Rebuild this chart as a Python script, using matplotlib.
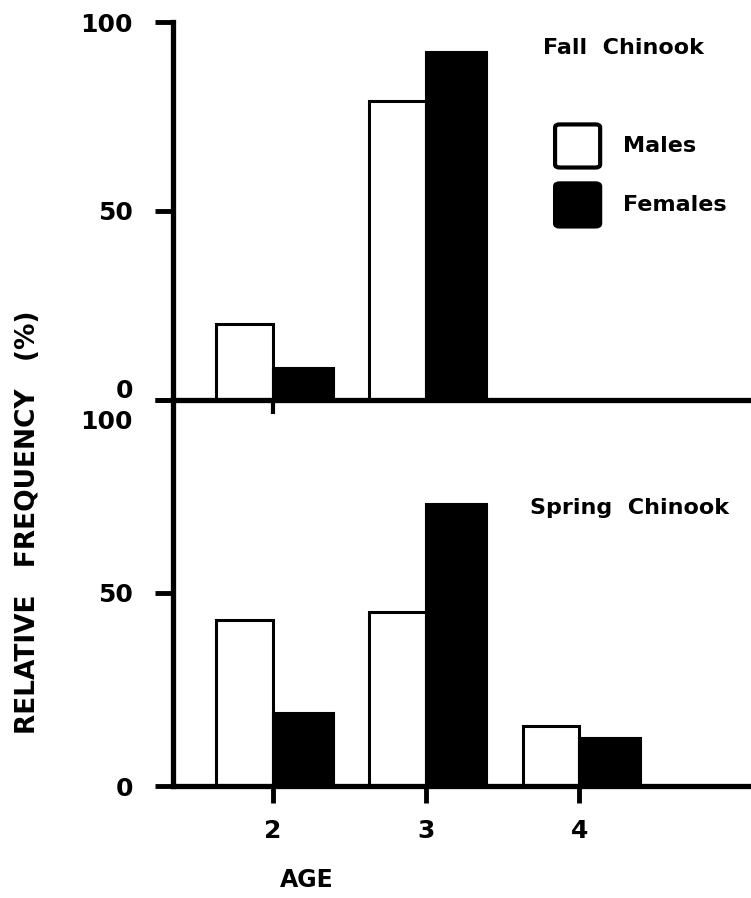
import numpy as np
import matplotlib
matplotlib.use("Agg")
import matplotlib.pyplot as plt
from matplotlib.patches import FancyBboxPatch
from matplotlib.transforms import ScaledTranslation

ages = [2, 3, 4]
fall_males = [20, 79, 0]
fall_females = [8.5, 92, 0]
spring_males = [43, 45, 15.5]
spring_females = [19, 73, 12.5]
y_ticks = [0, 50, 100]
y_tick_labels = ["0", "50", "100"]

plt.rcParams['font.family'] = ['DejaVu Sans']
plt.rcParams['font.weight'] = 'bold'

fig = plt.figure(figsize=(7.51, 8.98), dpi=100)
ax_top = fig.add_axes([0.2304, 0.5546, 0.7696, 0.4209])
ax_bot = fig.add_axes([0.2304, 0.1247, 0.7696, 0.4299])

x = np.array(ages, dtype=float)
wm, wf = 0.37, 0.40

def draw_panel(ax, males, females):
    ax.patch.set_visible(False)
    ax.bar(x, males, width=-wm, align='edge', facecolor='white',
           edgecolor='black', linewidth=2.2)
    ax.bar(x, females, width=wf, align='edge', facecolor='black',
           edgecolor='black', linewidth=1.5)
    ax.set_xlim(1.35, 5.12)
    ax.set_ylim(0, 100)
    for side in ['top', 'right']:
        ax.spines[side].set_visible(False)
    for side in ['left', 'bottom']:
        ax.spines[side].set_linewidth(3.8)
    ax.set_yticks(y_ticks)
    ax.set_yticklabels(y_tick_labels, fontsize=18, fontweight='bold')
    ax.tick_params(axis='y', length=13, width=3.5, pad=16)

draw_panel(ax_top, fall_males, fall_females)
draw_panel(ax_bot, spring_males, spring_females)

# top panel: single short tick at age 2, no labels
ax_top.set_xticks([2])
ax_top.set_xticklabels([""])
ax_top.tick_params(axis='x', length=10, width=3)

ax_bot.set_xticks(ages)
ax_bot.set_xticklabels([str(a) for a in ages], fontsize=18, fontweight='bold')
ax_bot.tick_params(axis='x', length=12, width=3.5, pad=12)

# shift the crowded labels where the two panels meet
lbl0 = ax_top.get_yticklabels()[0]
lbl0.set_transform(lbl0.get_transform() + ScaledTranslation(0, 0.11, fig.dpi_scale_trans))
lbl100 = ax_bot.get_yticklabels()[2]
lbl100.set_transform(lbl100.get_transform() + ScaledTranslation(0, -0.20, fig.dpi_scale_trans))

ax_top.text(0.64, 0.93, "Fall  Chinook", transform=ax_top.transAxes,
            fontsize=16, fontweight='bold', va='center', ha='left')
ax_bot.text(0.617, 0.72, "Spring  Chinook", transform=ax_bot.transAxes,
            fontsize=16, fontweight='bold', va='center', ha='left')

# legend drawn as boxes in axes coordinates
for yc, fc, lab in [(0.672, 'white', 'Males'), (0.516, 'black', 'Females')]:
    box = FancyBboxPatch((0.661, yc - 0.057), 0.078, 0.114,
                         boxstyle="round,pad=0,rounding_size=0.008",
                         transform=ax_top.transAxes, facecolor=fc,
                         edgecolor='black', linewidth=3)
    ax_top.add_patch(box)
    ax_top.text(0.779, yc, lab, transform=ax_top.transAxes,
                fontsize=16, fontweight='bold', va='center', ha='left')

fig.text(0.037, 0.418, "RELATIVE   FREQUENCY   (%)", rotation=90,
         fontsize=19, fontweight='bold', va='center', ha='center')
fig.text(0.409, 0.02, "AGE", fontsize=17, fontweight='bold',
         va='center', ha='center')

fig.savefig("out.png", dpi=100)
